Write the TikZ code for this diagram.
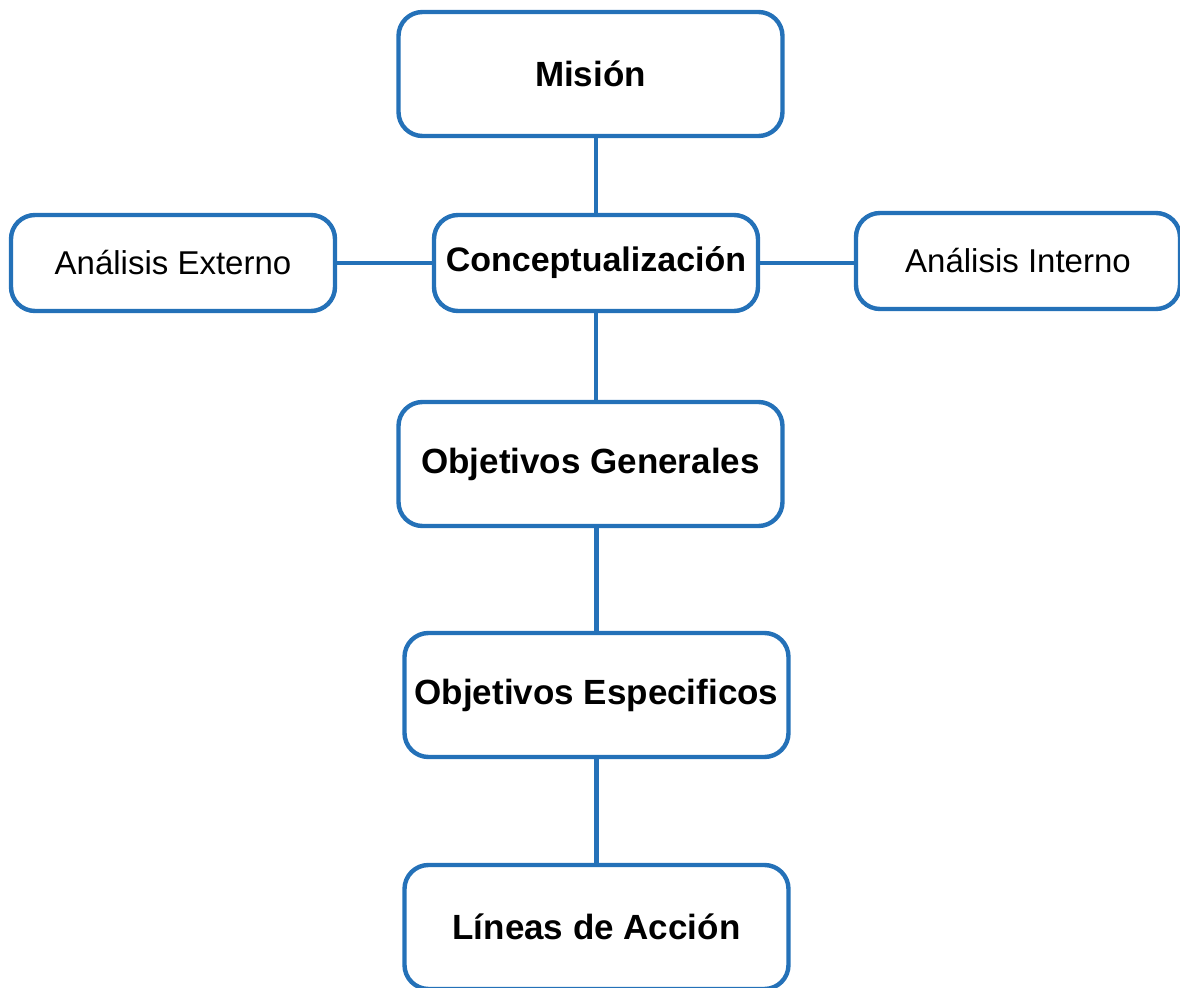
\documentclass[tikz,border=0pt]{standalone}
\usepackage{fontspec}
\setmainfont{Liberation Sans}
\usepackage{tikz}
\usetikzlibrary{positioning,calc}
\definecolor{lineblue}{RGB}{36,113,184}

\begin{document}
\begin{tikzpicture}[x=0.5pt,y=-0.5pt,
	box/.style={draw=lineblue,line width=2.2pt,rounded corners=12pt,fill=white,
		align=center,inner sep=0pt},
	big/.style={box,minimum width=192pt,minimum height=62pt,
		font=\fontsize{17.5}{20}\selectfont\bfseries},
	mid/.style={box,minimum width=162pt,minimum height=48pt,
		font=\fontsize{17}{20}\selectfont\bfseries},
	side/.style={box,minimum width=162pt,minimum height=48pt,
		font=\fontsize{16.5}{20}\selectfont},
	link/.style={draw=lineblue,line width=2.2pt},]

	\useasboundingbox (0,0) rectangle (1180,988);

	% boxes
	\node [big] (mision) at (590.5,74) {Misión};
	\node [mid] (concepto) at (596,263) {Conceptualización};
	\node [side] (externo) at (173,263) {Análisis Externo};
	\node [side] (interno) at (1018,261) {Análisis Interno};
	\node [big] (generales) at (590.5,464) {Objetivos Generales};
	\node [big] (especificos) at (596.5,695) {Objetivos Especificos};
	\node [big] (lineas) at (596.5,927) {Líneas de Acción};

	% connectors
	\draw[link](concepto.north)--(concepto.north |- mision.south);
	\draw[link](externo.east)--(concepto.west);
	\draw[link](concepto.east)--(interno.west |- concepto.east);
	\draw[link](concepto.south)--(concepto.south |- generales.north);
	\draw[link](especificos.north |- generales.south)--(especificos.north);
	\draw[link](especificos.south)--(lineas.north);
\end{tikzpicture}
\end{document}
